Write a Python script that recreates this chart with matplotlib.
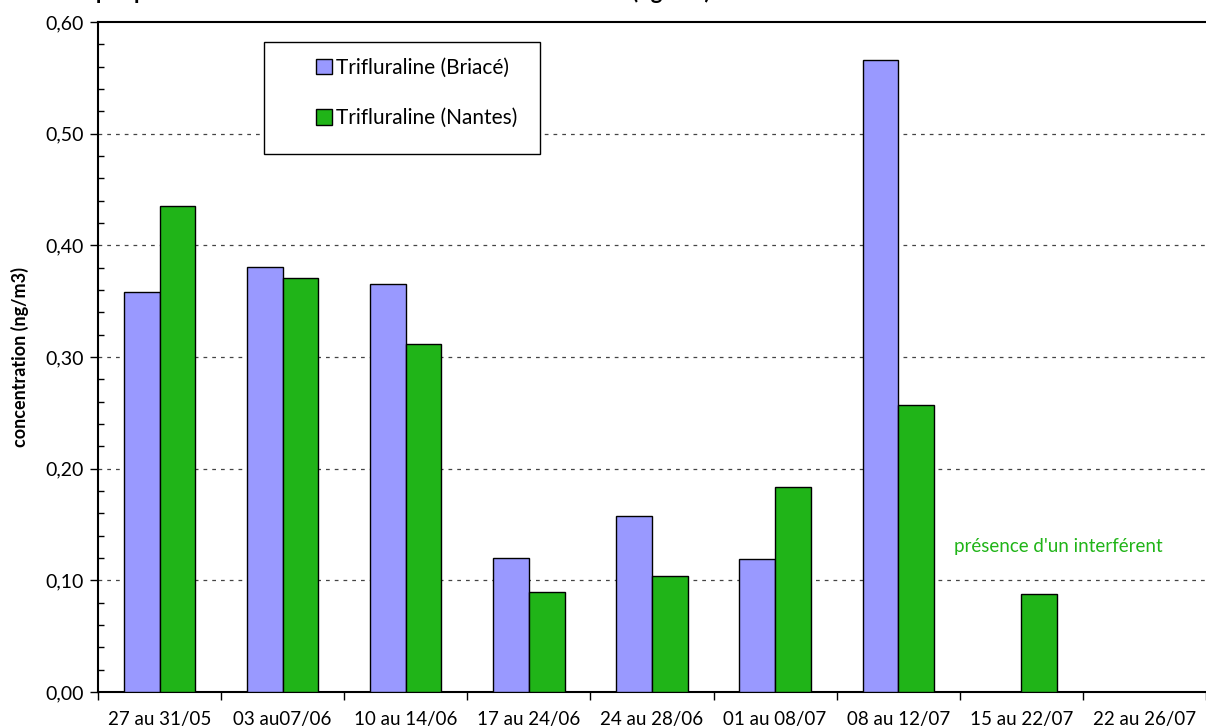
import numpy as np
import matplotlib
matplotlib.use("Agg")
import matplotlib.pyplot as plt
from matplotlib.patches import Rectangle
from matplotlib.ticker import MultipleLocator, FuncFormatter

plt.rcParams['font.family'] = ['Lato', 'DejaVu Sans']

# --- données ---
periodes = ['27 au 31/05', '03 au07/06', '10 au 14/06', '17 au 24/06', '24 au 28/06',
            '01 au 08/07', '08 au 12/07', '15 au 22/07', '22 au 26/07']
briace = [0.358, 0.381, 0.365, 0.120, 0.158, 0.119, 0.566, np.nan, np.nan]
nantes = [0.435, 0.371, 0.312, 0.090, 0.104, 0.184, 0.257, 0.088, np.nan]

COL_BRIACE = '#9999FF'
COL_NANTES = '#20B418'

W, H = 1206, 727
fig = plt.figure(figsize=(W / 100, H / 100), dpi=100)
ax = fig.add_axes([98 / W, 1 - 692 / H, 1 - 98 / W, (692 - 22) / H])

x = np.arange(len(periodes))
w = 0.29
ax.bar(x - w / 2, briace, w, color=COL_BRIACE, edgecolor='black', linewidth=1,
       label='Trifluraline (Briacé)', zorder=3)
ax.bar(x + w / 2, nantes, w, color=COL_NANTES, edgecolor='black', linewidth=1,
       label='Trifluraline (Nantes)', zorder=3)

ax.set_xlim(-0.5, len(periodes) - 0.5)
ax.set_ylim(0, 0.6)

# axe Y
ax.yaxis.set_major_locator(MultipleLocator(0.1))
ax.yaxis.set_minor_locator(MultipleLocator(0.02))
ax.yaxis.set_major_formatter(FuncFormatter(lambda v, p: f'{v:.2f}'.replace('.', ',')))
ax.tick_params(axis='y', which='major', direction='out', length=6, width=1, labelsize=14, pad=4)
ax.tick_params(axis='y', which='minor', direction='in', length=4, width=1)
ax.set_ylabel('concentration (ng/m3)', fontsize=13, fontweight='bold', labelpad=12)

# axe X : graduations entre les catégories
ax.set_xticks(x)
ax.set_xticklabels(periodes, fontsize=13.5)
ax.set_xticks(np.arange(len(periodes) + 1) - 0.5, minor=True)
ax.tick_params(axis='x', which='major', length=0, pad=14)
ax.tick_params(axis='x', which='minor', direction='out', length=6, width=1)

for yv in np.arange(0.1, 0.55, 0.1):
    ax.axhline(yv, color='#444444', linestyle=(0, (3, 4)), linewidth=0.9, zorder=1)

for s in ['left', 'bottom', 'top']:
    ax.spines[s].set_linewidth(1.5)
ax.spines['right'].set_visible(False)

# légende sans cadre + cadre dessiné à part
def px2ax(px, py):
    return ((px - 98) / (W - 98), (692 - py) / (692 - 22))

leg = ax.legend(loc='upper left', bbox_to_anchor=px2ax(316, 58),
                fontsize=15, frameon=False,
                handlelength=0.75, handleheight=0.75, handletextpad=0.2,
                labelspacing=1.45, borderpad=0, borderaxespad=0)
x0, y0 = px2ax(264, 154)
x1, y1 = px2ax(540, 42)
ax.add_patch(Rectangle((x0, y0), x1 - x0, y1 - y0, transform=ax.transAxes,
                       facecolor='white', edgecolor='black', linewidth=1, zorder=4))
leg.set_zorder(5)

ax.text(7.3, 0.13, "présence d'un interférent", color=COL_NANTES, fontsize=13.5,
        ha='center', va='center')

# titre en haut, en partie hors du cadre
fig.text(60 / W, 1 + 1 / H,
         'Graphique 4 : Evolution des concentrations en trifluraline (ng/m3) mesurées à Briacé et en zone urbaine à Nantes',
         fontsize=16, fontweight='bold', ha='left', va='baseline')

fig.savefig('out.png', dpi=100)
